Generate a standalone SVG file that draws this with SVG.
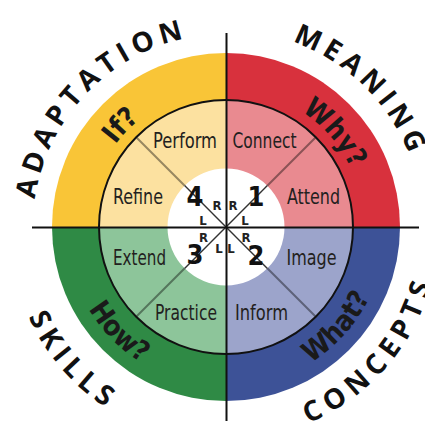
<svg xmlns="http://www.w3.org/2000/svg" xmlns:xlink="http://www.w3.org/1999/xlink" width="425" height="421" viewBox="0 0 425 421">
<style>
.big{font-family:"Open Sans","Liberation Sans",sans-serif;font-weight:700;font-size:28px;fill:#111;}
.ring{font-family:"Liberation Sans Narrow","DejaVu Sans Condensed","Liberation Sans",sans-serif;font-weight:bold;font-size:28px;fill:#1a1a1a;}
.lbl{font-family:"Liberation Sans Narrow","DejaVu Sans Condensed","Liberation Sans",sans-serif;font-size:22px;fill:#231f20;}
.num{font-family:"Liberation Sans Narrow","DejaVu Sans Condensed","Liberation Sans",sans-serif;font-weight:bold;font-size:27px;fill:#111;text-anchor:middle;}
.rl{font-family:"Liberation Sans Narrow","DejaVu Sans Condensed","Liberation Sans",sans-serif;font-weight:bold;font-size:13px;fill:#222;text-anchor:middle;}
.axis{stroke:#111;stroke-width:2;fill:none;}
.diag{stroke:#000;stroke-opacity:0.4;stroke-width:2;}
.diagin{stroke:#333;stroke-width:1.4;}
</style>
<defs>
<path id="pAdapt" d="M 40.9 281.5 A 193 193 0 0 1 271.4 39.4"/>
<path id="pMean" d="M 207.5 30.9 A 197 197 0 0 1 422.4 242.8"/>
<path id="pSkills" d="M 11.6 193.4 A 217 217 0 0 0 230.2 444.0"/>
<path id="pConc" d="M 216.3 439.8 A 213 213 0 0 0 437.2 199.6"/>
<path id="pIf" d="M 88.3 217.4 A 138 138 0 0 1 211.6 89.8"/>
<path id="pWhy" d="M 247.6 90.7 A 138 138 0 0 1 364.0 224.6"/>
<path id="pHow" d="M 66.5 239.3 A 160 160 0 0 0 210.4 386.2"/>
<path id="pWhat" d="M 248.3 385.4 A 160 160 0 0 0 385.9 232.6"/>
</defs>

<g id="q-adaptation">
<path d="M 226 227 L 52 227 A 174 174 0 0 1 226 53 Z" fill="#F9C537"/>
<path d="M 226 227 L 99 227 A 127 127 0 0 1 226 100 Z" fill="#FCE1A0"/>
</g>
<g id="q-meaning">
<path d="M 226 227 L 226 53 A 174 174 0 0 1 400 227 Z" fill="#D8313D"/>
<path d="M 226 227 L 226 100 A 127 127 0 0 1 353 227 Z" fill="#E98A90"/>
</g>
<g id="q-concepts">
<path d="M 226 227 L 400 227 A 174 174 0 0 1 226 401 Z" fill="#3D5297"/>
<path d="M 226 227 L 353 227 A 127 127 0 0 1 226 354 Z" fill="#9CA4CB"/>
</g>
<g id="q-skills">
<path d="M 226 227 L 226 401 A 174 174 0 0 1 52 227 Z" fill="#2F8A45"/>
<path d="M 226 227 L 226 354 A 127 127 0 0 1 99 227 Z" fill="#8DC59A"/>
</g>

<g id="connectors">
<line class="diag" x1="136.2" y1="137.2" x2="315.8" y2="316.8"/>
<line class="diag" x1="315.8" y1="137.2" x2="136.2" y2="316.8"/>
<circle cx="226" cy="227" r="127" class="axis"/>
<circle cx="226" cy="227" r="58.5" fill="#fff"/>
<line class="diagin" x1="184.6" y1="185.6" x2="267.4" y2="268.4"/>
<line class="diagin" x1="267.4" y1="185.6" x2="184.6" y2="268.4"/>
<line class="axis" x1="226.5" y1="33" x2="226.5" y2="421"/>
<line class="axis" x1="32" y1="227.5" x2="419" y2="227.5"/>
</g>

<g id="outer-labels">
<text class="big" letter-spacing="5.5"><textPath xlink:href="#pAdapt" startOffset="50%" text-anchor="middle">ADAPTATION</textPath></text>
<text class="big" letter-spacing="5"><textPath xlink:href="#pMean" startOffset="50%" text-anchor="middle">MEANING</textPath></text>
<text class="big" letter-spacing="6"><textPath xlink:href="#pSkills" startOffset="50%" text-anchor="middle">SKILLS</textPath></text>
<text class="big" letter-spacing="6.5"><textPath xlink:href="#pConc" startOffset="52%" text-anchor="middle">CONCEPTS</textPath></text>
</g>

<g id="ring-labels">
<text class="ring"><textPath xlink:href="#pIf" startOffset="50%" text-anchor="middle">If?</textPath></text>
<text class="ring"><textPath xlink:href="#pWhy" startOffset="50%" text-anchor="middle">Why?</textPath></text>
<text class="ring"><textPath xlink:href="#pHow" startOffset="50%" text-anchor="middle">How?</textPath></text>
<text class="ring"><textPath xlink:href="#pWhat" startOffset="50%" text-anchor="middle">What?</textPath></text>
</g>

<g id="inner-labels">
<text class="lbl" x="153" y="148" textLength="64" lengthAdjust="spacingAndGlyphs">Perform</text>
<text class="lbl" x="232.5" y="148" textLength="64" lengthAdjust="spacingAndGlyphs">Connect</text>
<text class="lbl" x="113" y="204" textLength="50" lengthAdjust="spacingAndGlyphs">Refine</text>
<text class="lbl" x="287" y="204" textLength="53" lengthAdjust="spacingAndGlyphs">Attend</text>
<text class="lbl" x="113" y="265" textLength="53" lengthAdjust="spacingAndGlyphs">Extend</text>
<text class="lbl" x="286.5" y="265" textLength="50" lengthAdjust="spacingAndGlyphs">Image</text>
<text class="lbl" x="155" y="320" textLength="62" lengthAdjust="spacingAndGlyphs">Practice</text>
<text class="lbl" x="235" y="320" textLength="53" lengthAdjust="spacingAndGlyphs">Inform</text>
</g>

<g id="center">
<text class="num" x="195" y="206">4</text>
<text class="num" x="256" y="206">1</text>
<text class="num" x="195" y="264">3</text>
<text class="num" x="256" y="265">2</text>
<text class="rl" x="217" y="210">R</text>
<text class="rl" x="233" y="210">R</text>
<text class="rl" x="203" y="225">L</text>
<text class="rl" x="245" y="225">L</text>
<text class="rl" x="203.5" y="242">R</text>
<text class="rl" x="246" y="242">R</text>
<text class="rl" x="219" y="253">L</text>
<text class="rl" x="231" y="253">L</text>
</g>
</svg>
